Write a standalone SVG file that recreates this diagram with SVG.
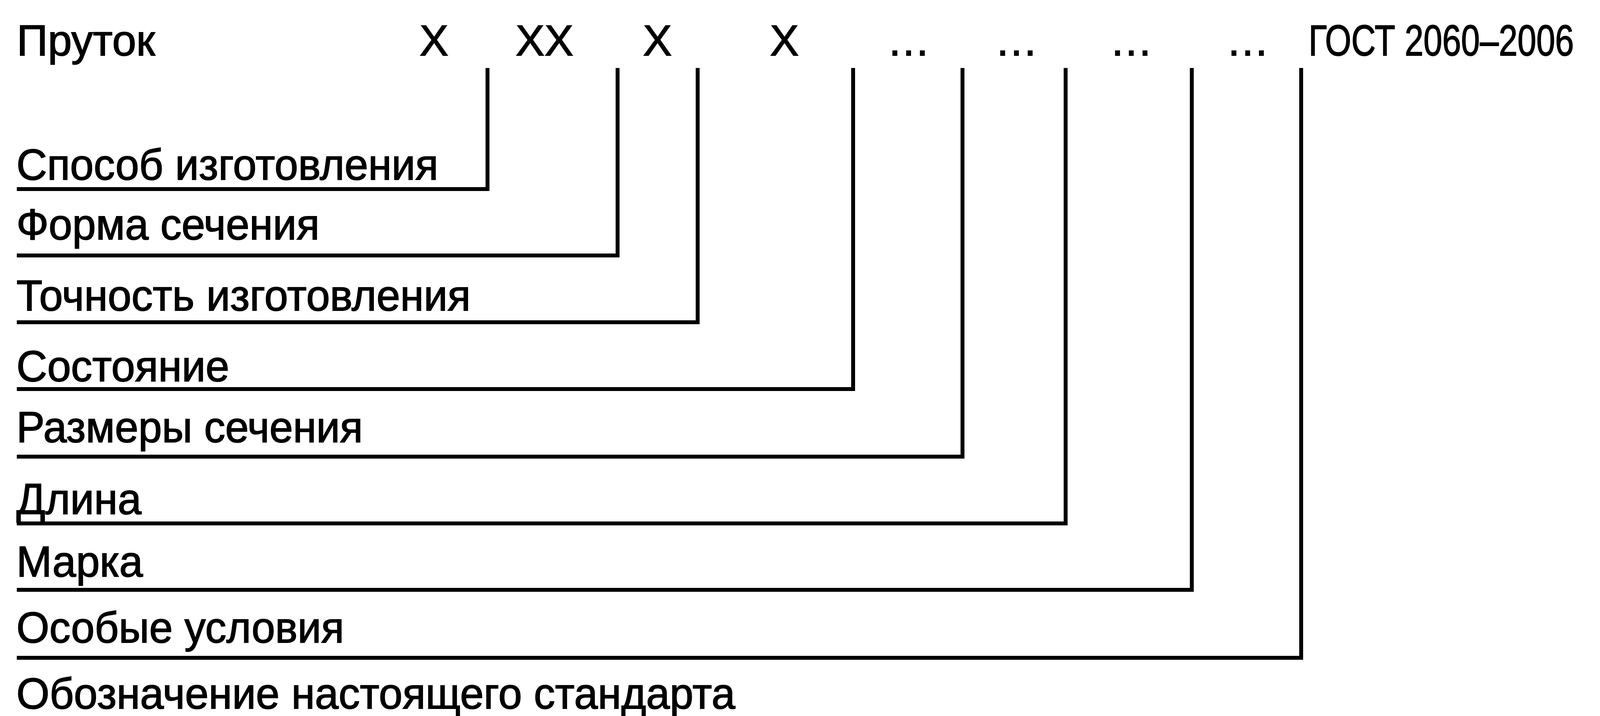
<svg xmlns="http://www.w3.org/2000/svg" width="4265" height="1833" viewBox="0 0 4265 1833">
<style>
text{font-family:"Liberation Sans",Arial,sans-serif;font-size:111px;fill:#000;stroke:#000;stroke-width:2}
.c{text-anchor:middle}
.ln{fill:none;stroke:#000;stroke-width:10;stroke-linejoin:miter;stroke-linecap:butt}
</style>
<rect width="4265" height="1833" fill="#fff"/>
<g id="header">
<text x="43" y="142" textLength="354" lengthAdjust="spacingAndGlyphs">Пруток</text>
<text class="c" x="1111" y="142">X</text>
<text class="c" x="1394" y="142">XX</text>
<text class="c" x="1683" y="142">X</text>
<text class="c" x="2008" y="142">X</text>
<text class="c" x="2326" y="142">…</text>
<text class="c" x="2602" y="142">…</text>
<text class="c" x="2896" y="142">…</text>
<text class="c" x="3194" y="142">…</text>
<text transform="translate(3350 142) scale(0.78 1)" x="0" y="0">ГОСТ 2060–2006</text>
</g>
<g id="connectors">
<path class="ln" d="M43 484H1248V174"/>
<path class="ln" d="M43 654H1581V174"/>
<path class="ln" d="M43 825H1786V174"/>
<path class="ln" d="M43 996H2184V174"/>
<path class="ln" d="M43 1169H2464V174"/>
<path class="ln" d="M43 1340H2728V174"/>
<path class="ln" d="M43 1510H3051V174"/>
<path class="ln" d="M43 1684H3331V174"/>
</g>
<g id="n1"><text x="42" y="460" textLength="1080" lengthAdjust="spacingAndGlyphs">Способ изготовления</text></g>
<g id="n2"><text x="42" y="613" textLength="776" lengthAdjust="spacingAndGlyphs">Форма сечения</text></g>
<g id="n3"><text x="42" y="795" textLength="1163" lengthAdjust="spacingAndGlyphs">Точность изготовления</text></g>
<g id="n4"><text x="42" y="976" textLength="545" lengthAdjust="spacingAndGlyphs">Состояние</text></g>
<g id="n5"><text x="42" y="1132" textLength="887" lengthAdjust="spacingAndGlyphs">Размеры сечения</text></g>
<g id="n6"><text x="42" y="1316" textLength="320" lengthAdjust="spacingAndGlyphs">Длина</text></g>
<g id="n7"><text x="42" y="1476" textLength="324" lengthAdjust="spacingAndGlyphs">Марка</text></g>
<g id="n8"><text x="42" y="1645" textLength="839" lengthAdjust="spacingAndGlyphs">Особые условия</text></g>
<g id="n9"><text x="42" y="1814" textLength="1840" lengthAdjust="spacingAndGlyphs">Обозначение настоящего стандарта</text></g>
</svg>
